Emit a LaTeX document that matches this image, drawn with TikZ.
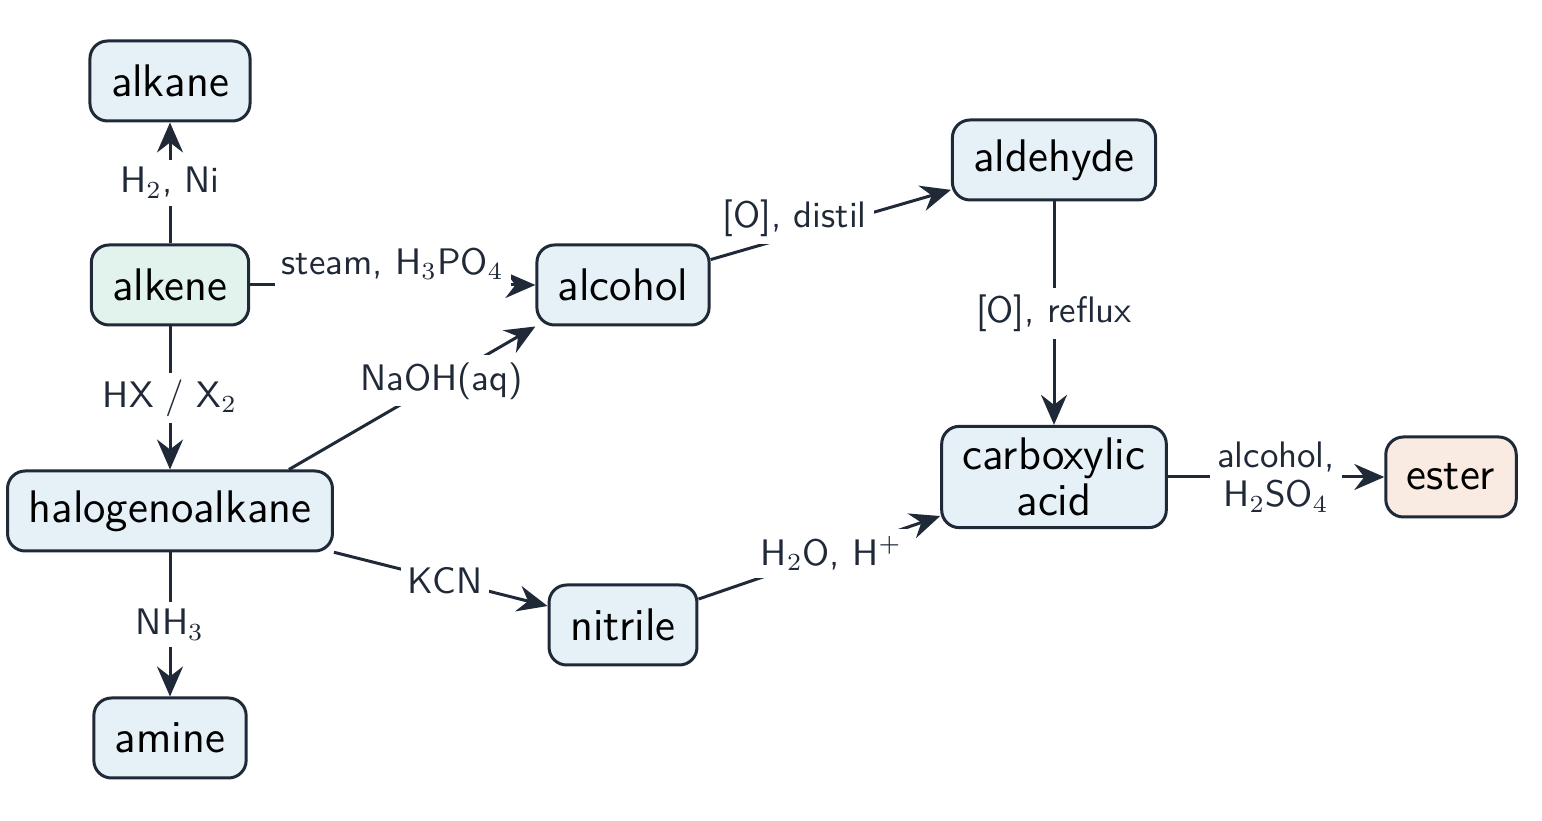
\documentclass[tikz,border=0pt]{standalone}
\usetikzlibrary{arrows.meta,positioning}
\definecolor{edgecol}{HTML}{1F2937}
\definecolor{boxblue}{HTML}{E6F0F7}
\definecolor{boxgreen}{HTML}{E2F3EE}
\definecolor{boxorange}{HTML}{F9EBE1}
\tikzset{
    compound/.style={draw=edgecol, fill=boxblue, rounded corners=5pt, line width=.3mm,
        minimum height=.8cm, inner xsep=6pt, align=center, font=\sffamily\fontsize{13}{15}\selectfont},
    reaction/.style={draw=edgecol, line width=.3mm, -{Stealth[length=3mm,width=2.6mm,inset=1mm]}},
    cond/.style={fill=white, inner sep=2pt, font=\sffamily\fontsize{10.5}{12}\selectfont, text=edgecol, align=center},
}
\begin{document}
\begin{tikzpicture}[line width=.3mm]
    \useasboundingbox (0,0) rectangle (15.42,8.20);
    % compounds
    \node[compound] (alkane) at (1.70,7.39) {alkane};
    \node[compound, fill=boxgreen] (alkene) at (1.70,5.35) {alkene};
    \node[compound] (halo) at (1.70,3.09) {halogenoalkane};
    \node[compound] (amine) at (1.70,0.82) {amine};
    \node[compound] (alcohol) at (6.23,5.35) {alcohol};
    \node[compound] (nitrile) at (6.23,1.95) {nitrile};
    \node[compound] (aldehyde) at (10.54,6.60) {aldehyde};
    \node[compound, minimum height=.9cm] (acid) at (10.54,3.43) {carboxylic\\[-2pt]acid};
    \node[compound, fill=boxorange] (ester) at (14.51,3.43) {ester};
    % reactions
    \draw[reaction] (alkene) -- node[cond] {H$_2$, Ni} (alkane);
    \draw[reaction] (alkene) -- node[cond, above=-1pt] {steam, H$_3$PO$_4$} (alcohol);
    \draw[reaction] (alkene) -- node[cond] {HX / X$_2$} (halo);
    \draw[reaction] (halo.north east) ++(-.45,0) -- node[cond, pos=.62] {NaOH(aq)} (alcohol.south west);
    \draw[reaction] (halo) -- node[cond] {NH$_3$} (amine);
    \draw[reaction] (halo) -- node[cond, pos=.52] {KCN} (nitrile);
    \draw[reaction] (alcohol) -- node[cond, pos=.35, above=-3pt] {[O], distil} (aldehyde);
    \draw[reaction] (aldehyde) -- node[cond] {[O], reflux} (acid);
    \draw[reaction] (nitrile) -- node[cond, pos=.55] {H$_2$O, H$^+$} (acid);
    \draw[reaction] (acid) -- node[cond, font=\sffamily\fontsize{10.5}{11}\selectfont] {alcohol,\\H$_2$SO$_4$} (ester);
\end{tikzpicture}
\end{document}
